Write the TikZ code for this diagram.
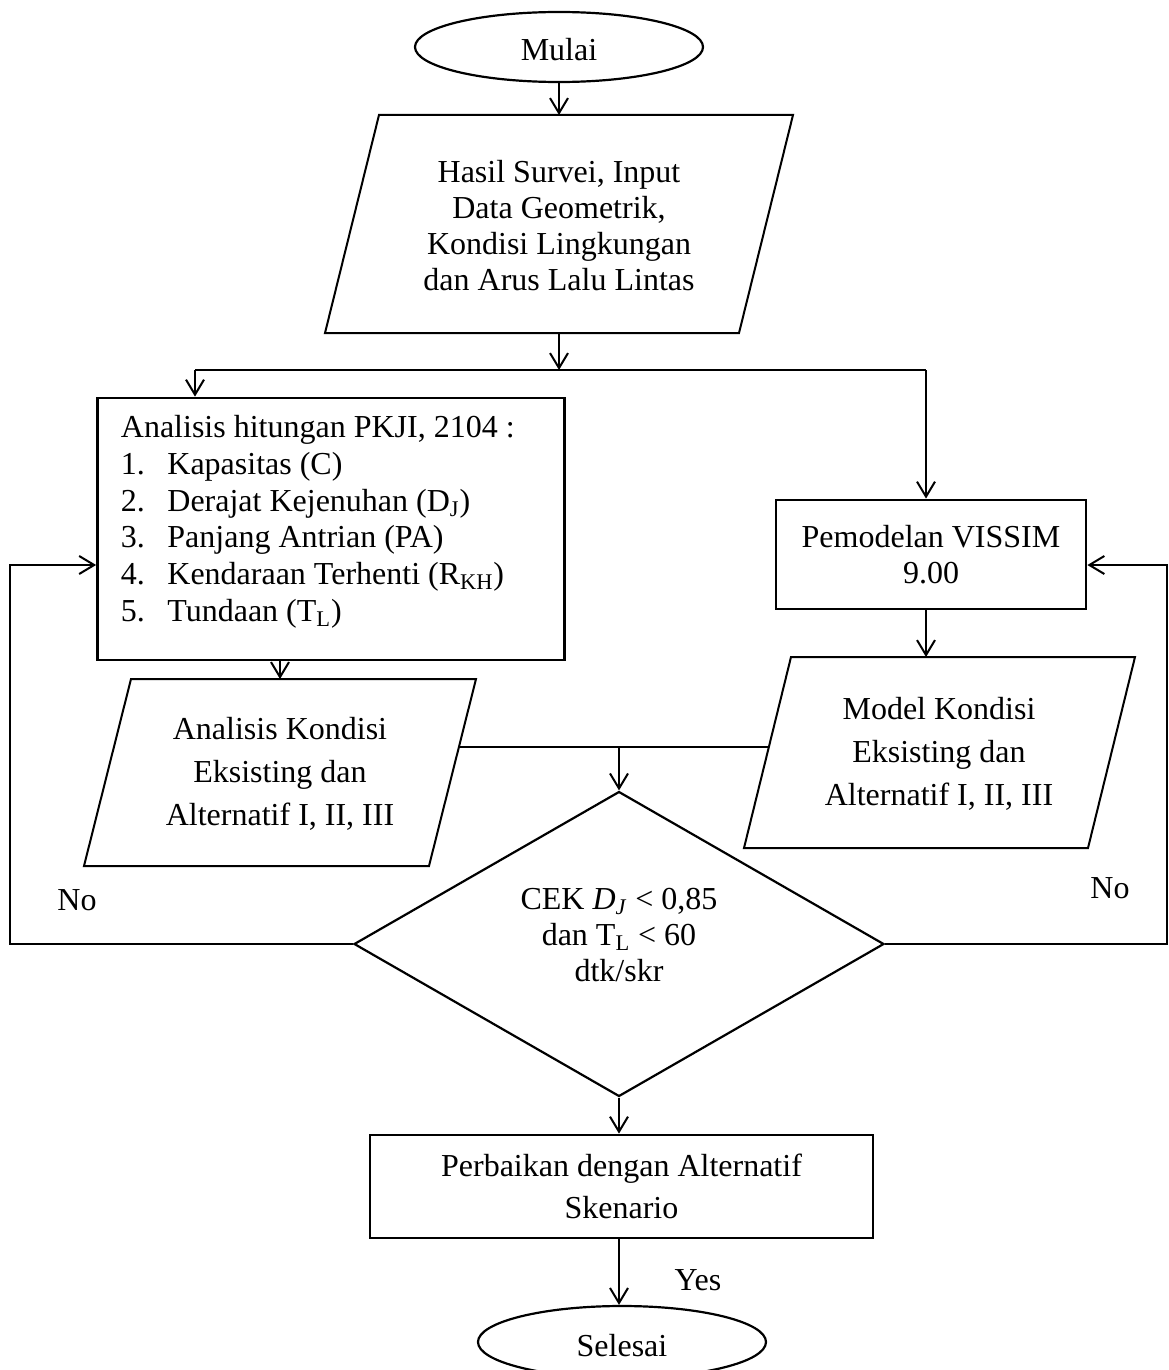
\documentclass[tikz,border=0pt]{standalone}
\usepackage{fontspec}
\setmainfont{Liberation Serif}
\usetikzlibrary{shapes.geometric,arrows.meta,calc}
\begin{document}
\begin{tikzpicture}[x=0.5pt,y=-0.5pt,
  every node/.style={font=\fontsize{16}{18}\selectfont},
  box/.style={draw, line width=1.4pt, inner sep=0pt},
  para/.style={draw, line width=1pt, line join=miter},
  term/.style={draw, ellipse, line width=1.1pt, inner sep=0pt},
  conn/.style={line width=1pt},
  arr/.style={line width=1pt, -{Straight Barb[length=7.5pt,width=9pt,line width=1pt]}}]
\useasboundingbox (0,0) rectangle (1168,1370);

% start
\node[term, minimum width=144pt, minimum height=35pt] (mulai) at (559,47) {\raisebox{-1.5pt}[\height][\depth]{Mulai}};

% input parallelogram
\draw[para] (379,115) -- (793,115) -- (739,333) -- (325,333) -- cycle;
\node[align=center] (p1) at (559,226) {Hasil Survei, Input\\Data Geometrik,\\Kondisi Lingkungan\\dan Arus Lalu Lintas};
\coordinate (p1top) at (559,115);
\coordinate (p1bot) at (559,333);

% analysis box
\node[box, minimum width=233.5pt, minimum height=131pt] (an) at (331,529) {};
\node[anchor=north west, align=left, inner sep=0pt, font=\fontsize{16}{18.35}\selectfont] (antext) at (120.5,415)
 {Analisis hitungan PKJI, 2104 :\\
  \makebox[23.25pt][l]{1.}Kapasitas (C)\\
  \makebox[23.25pt][l]{2.}Derajat Kejenuhan (D\textsubscript{J})\\
  \makebox[23.25pt][l]{3.}Panjang Antrian (PA)\\
  \makebox[23.25pt][l]{4.}Kendaraan Terhenti (R\textsubscript{KH})\\
  \makebox[23.25pt][l]{5.}Tundaan (T\textsubscript{L})};

% VISSIM box
\node[box, minimum width=155pt, minimum height=54.5pt, align=center] (vis) at (931,554.5) {Pemodelan VISSIM\\9.00};

% left output parallelogram
\draw[para] (131,679) -- (476,679) -- (429,866) -- (84,866) -- cycle;
\node[align=center, font=\fontsize{16}{21.5}\selectfont] (p3) at (280,774) {Analisis Kondisi\\Eksisting dan\\Alternatif I, II, III};
\coordinate (p3top) at (280,679);
\coordinate (p3r) at (459,747);

% right output parallelogram
\draw[para] (791,657) -- (1135,657) -- (1088,848) -- (744,848) -- cycle;
\node[align=center, font=\fontsize{16}{21.5}\selectfont] (p2) at (939,754) {Model Kondisi\\Eksisting dan\\Alternatif I, II, III};
\coordinate (p2top) at (926,657);
\coordinate (p2l) at (769,747);

% decision
\node[draw, diamond, line width=1.1pt, minimum width=265pt, minimum height=150pt, inner sep=0pt] (cek) at (619,944)
 {\raisebox{3pt}[\height][\depth]{\begin{tabular}{@{}c@{}}CEK \textit{D}\textsubscript{\textit{J}} < 0,85\\dan T\textsubscript{L} < 60\\dtk/skr\end{tabular}}};

% improvement box
\node[box, minimum width=251.5pt, minimum height=51.5pt, align=center, font=\fontsize{16}{21}\selectfont] (perb) at (621.5,1186.5) {Perbaikan dengan Alternatif\\Skenario};

% end
\node[term, minimum width=144pt, minimum height=36pt] (sel) at (622,1342) {\raisebox{-2pt}[\height][\depth]{Selesai}};

% labels
\node (no1) at (77,900) {No};
\node (no2) at (1110,888) {No};
\node (yes) at (698,1280) {Yes};

% connectors
\coordinate (jc) at (559,370);
\coordinate (jl) at (195,370);
\coordinate (jr) at (926,370);
\coordinate (jd) at (619,747);
\coordinate (loopL) at (10,565);
\coordinate (loopR) at (1167,565);

\draw[arr] (mulai.south) -- (p1top);
\draw[arr] (p1bot) -- (jc);
\draw[conn] (jl) -- (jr);
\draw[arr] (jl) -- (jl |- an.north);
\draw[arr] (jr) -- (jr |- vis.north);
\draw[arr] (p3top |- an.south) -- (p3top);
\draw[arr] (p2top |- vis.south) -- (p2top);
\draw[conn] (p3r) -- (p2l);
\draw[arr] (jd) -- (cek.north);
\draw[arr] (cek.west) -| (loopL) -- (loopL -| an.west);
\draw[arr] (cek.east) -| (loopR) -- (loopR -| vis.east);
\draw[arr] (cek.south) -- (cek.south |- perb.north);
\draw[arr] (cek.south |- perb.south) -- (cek.south |- sel.north);
\end{tikzpicture}
\end{document}
